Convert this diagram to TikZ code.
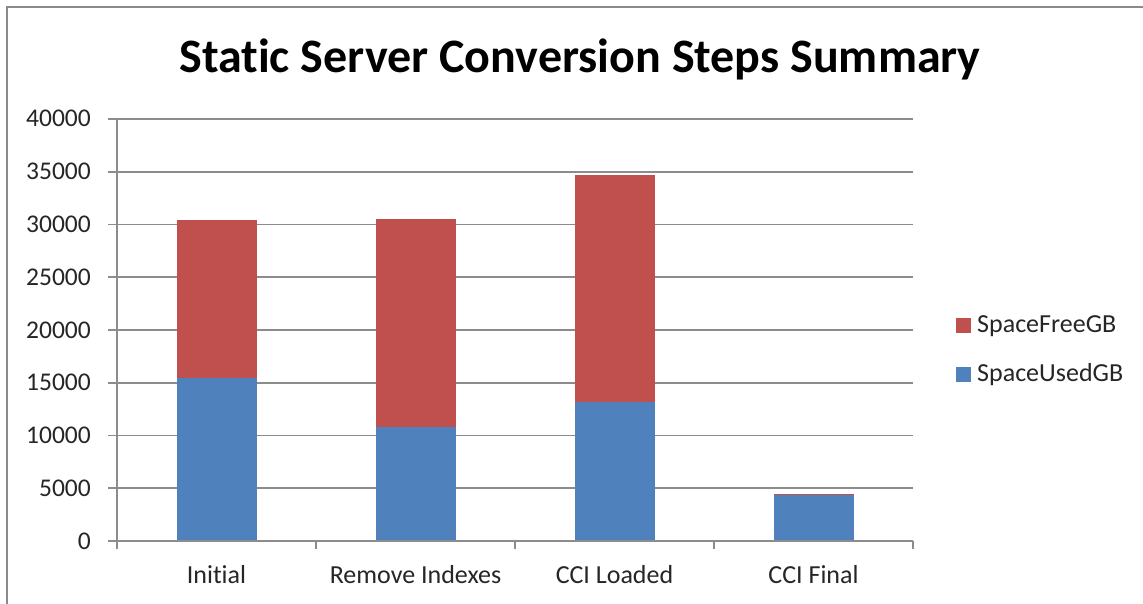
\documentclass[tikz,border=0pt]{standalone}
\usepackage{fontspec}
\setmainfont{Carlito}[RawFeature={-liga;-clig;-calt;-dlig}]
\definecolor{usedblue}{HTML}{4F81BD}
\definecolor{freered}{HTML}{C0504D}
\definecolor{gridgray}{HTML}{8C8C8C}
\definecolor{framegray}{HTML}{8A8A8A}
\begin{document}
\begin{tikzpicture}[x=1pt,y=-1pt,
  gridline/.style={draw=gridgray,line width=1.6pt},
  framestroke/.style={draw=framegray,line width=1.6pt},
  ticklabel/.style={font=\fontsize{25.5}{30}\selectfont,text=black!85,inner sep=0pt},
  catlabel/.style={font=\fontsize{26}{30}\selectfont,text=black!85,inner sep=0pt,anchor=base},
  legendlabel/.style={font=\fontsize{26}{30}\selectfont,text=black!85,inner sep=0pt,anchor=base west},
  usedbar/.style={fill=usedblue},
  freebar/.style={fill=freered}]
\useasboundingbox (0,0) rectangle (1143,604);
\fill[white] (0,0) rectangle (1143,604);
% outer frame (left and top edges only)
\draw[framestroke] (7,604) -- (7,7) -- (1143,7);

% title (the kern keeps "t" and "i" as separate glyphs)
\node[font=\bfseries\fontsize{48}{56}\selectfont,anchor=base,inner sep=0pt] (title) at (580,73) {Stat\kern0pt ic Server Conversion Steps Summary};

% horizontal gridlines, ticks and value labels (0..40000 -> y 541..119)
\foreach \k/\v in {0/0,1/5000,2/10000,3/15000,4/20000,5/25000,6/30000,7/35000,8/40000}{
  \pgfmathsetmacro\yy{541-\k*52.75}
  \draw[gridline] (108,\yy) -- (913,\yy);
  \node[ticklabel,anchor=base east] (ylab\k) at (91,\yy+8) {\v};
}

% stacked bars: centre x, used and free space in thousands of GB
\foreach \cx/\used/\free in {216.5/15.45/14.98, 415.5/10.80/19.72, 614.5/13.17/21.53, 813.5/4.45/0.05}{
  \pgfmathsetmacro\ytop{541-\used*10.55}
  \pgfmathsetmacro\ytot{541-(\used+\free)*10.55}
  \fill[usedbar] (\cx-40,541) rectangle (\cx+40,\ytop);
  \fill[freebar] (\cx-40,\ytop) rectangle (\cx+40,\ytot);
}

% axes
\draw[gridline] (117,119) -- (117,541);
\draw[gridline] (108,541) -- (913,541);
\foreach \i in {0,...,4}{
  \draw[gridline] (117+199*\i,541) -- (117+199*\i,549);
}

% category labels
\node[catlabel] (c1) at (216.5,583) {Initial};
\node[catlabel] (c2) at (415.5,583) {Remove Indexes};
\node[catlabel] (c3) at (614.5,583) {CCI Loaded};
\node[catlabel] (c4) at (813.5,583) {CCI Final};

% legend
\fill[freebar] (956,318) rectangle (971,333);
\node[legendlabel] (lfree) at (977,332) {SpaceFreeGB};
\fill[usedbar] (956,367) rectangle (971,382);
\node[legendlabel] (lused) at (977,381) {SpaceUsedGB};
\end{tikzpicture}
\end{document}
